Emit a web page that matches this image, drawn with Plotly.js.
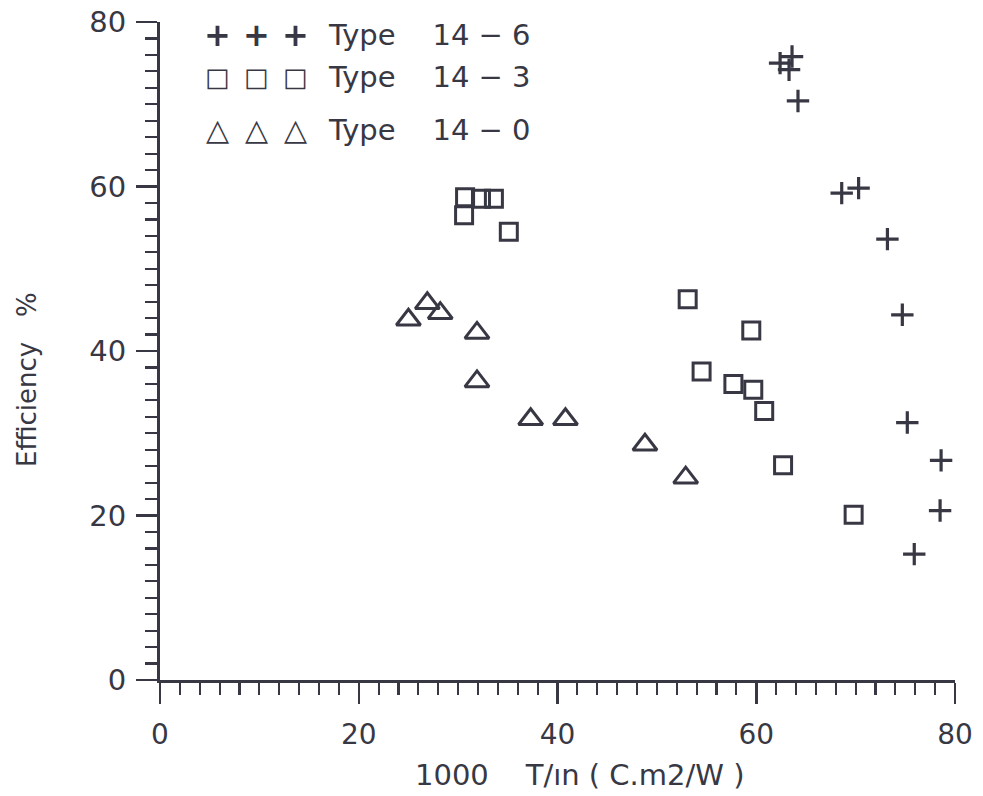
<!DOCTYPE html>
<html>
<head>
<meta charset="utf-8">
<script src="https://cdn.plot.ly/plotly-3.0.1.min.js"></script>
<style>html,body{margin:0;padding:0;background:#fff;}#chart{width:983px;height:796px;}</style>
</head>
<body>
<div id="chart"></div>
<script>
// Type 14-6 (plus)
const x146 = [62.4, 63.6, 63.3, 64.2, 68.6, 70.3, 73.2, 74.7, 75.2, 78.6, 78.5, 75.9];
const y146 = [75.0, 75.8, 74.2, 70.4, 59.2, 59.8, 53.6, 44.4, 31.3, 26.7, 20.6, 15.3];
// Type 14-3 (square)
const x143 = [30.7, 32.3, 33.6, 30.6, 35.1, 53.1, 59.5, 54.5, 57.7, 59.7, 60.8, 62.7, 69.8];
const y143 = [58.7, 58.5, 58.5, 56.5, 54.5, 46.3, 42.5, 37.5, 36.0, 35.3, 32.7, 26.1, 20.1];
// Type 14-0 (triangle)
const x140 = [25.0, 26.9, 28.2, 31.9, 31.9, 37.3, 40.8, 48.8, 52.9];
const y140 = [43.8, 45.8, 44.6, 42.2, 36.3, 31.7, 31.7, 28.6, 24.6];

const legendSymbols = ["+", "□", "△"];
const legendLabels = ["Type    14 − 6", "Type    14 − 3", "Type    14 − 0"];
const xTitle = "1000    T/ın ( C.m2/W )";
const yTitle = "Efficiency   %";
const xTickVals = [0, 20, 40, 60, 80];
const yTickVals = [0, 20, 40, 60, 80];

const ink = '#383844';
const font = 'DejaVu Sans, sans-serif';

const traces = [
  {x: x146, y: y146, mode: 'markers', type: 'scatter', name: 'Type 14-6',
   marker: {symbol: 'cross-thin-open', size: 16, color: ink, line: {color: ink, width: 3.2}}},
  {x: x143, y: y143, mode: 'markers', type: 'scatter', name: 'Type 14-3',
   marker: {symbol: 'square-open', size: 17, color: ink, line: {color: ink, width: 3}}},
  {x: x140, y: y140, mode: 'markers', type: 'scatter', name: 'Type 14-0',
   marker: {symbol: 'triangle-up-open', size: 21, color: ink, line: {color: ink, width: 3}}}
];

const axBase = {
  showgrid: false, zeroline: false, showline: true, linecolor: ink, linewidth: 3,
  ticks: 'outside', ticklen: 21, tickwidth: 2.5, tickcolor: ink,
  minor: {dtick: 2, ticks: 'outside', ticklen: 12, tickwidth: 2.2, tickcolor: ink}
};

// plot area in pixels: x 160..955, y 22..680
const px = v => (v - 160) / 795;
const py = v => (680 - v) / 658;

const annotations = [];
const rowY = [35, 77, 130];
const symX = [217, 256, 295];
const symSize = [32, 26, 30];
const symWeight = ['bold', 'bold', 'bold'];
legendSymbols.forEach((s, i) => {
  symX.forEach(sx => {
    annotations.push({xref: 'paper', yref: 'paper', x: px(sx), y: py(rowY[i]), xanchor: 'center', yanchor: 'middle',
      showarrow: false, text: '<b>' + s + '</b>', font: {family: font, size: symSize[i], color: ink}});
  });
  annotations.push({xref: 'paper', yref: 'paper', x: px(326), y: py(rowY[i]), xanchor: 'left', yanchor: 'middle',
    showarrow: false, text: legendLabels[i], font: {family: font, size: 29, color: ink}});
});
annotations.push({xref: 'paper', yref: 'paper', x: px(580), y: py(775), xanchor: 'center', yanchor: 'middle',
  showarrow: false, text: xTitle, font: {family: font, size: 29, color: ink}});
annotations.push({xref: 'paper', yref: 'paper', x: px(27), y: py(380), xanchor: 'center', yanchor: 'middle',
  textangle: -90, showarrow: false, text: yTitle, font: {family: font, size: 26, color: ink}});

const layout = {
  width: 983, height: 796,
  paper_bgcolor: '#fff', plot_bgcolor: '#fff',
  margin: {l: 160, r: 28, t: 22, b: 116},
  showlegend: false,
  xaxis: Object.assign({}, axBase, {
    range: [0, 80], tickvals: xTickVals, ticktext: xTickVals.map(String),
    tickfont: {family: font, size: 28, color: ink}, ticklabelstandoff: 6
  }),
  yaxis: Object.assign({}, axBase, {
    range: [0, 80], tickvals: yTickVals, ticktext: yTickVals.map(String),
    tickfont: {family: font, size: 29, color: ink}, ticklabelstandoff: 4
  }),
  annotations: annotations
};

Plotly.newPlot('chart', traces, layout, {displayModeBar: false, staticPlot: true});
</script>
</body>
</html>
